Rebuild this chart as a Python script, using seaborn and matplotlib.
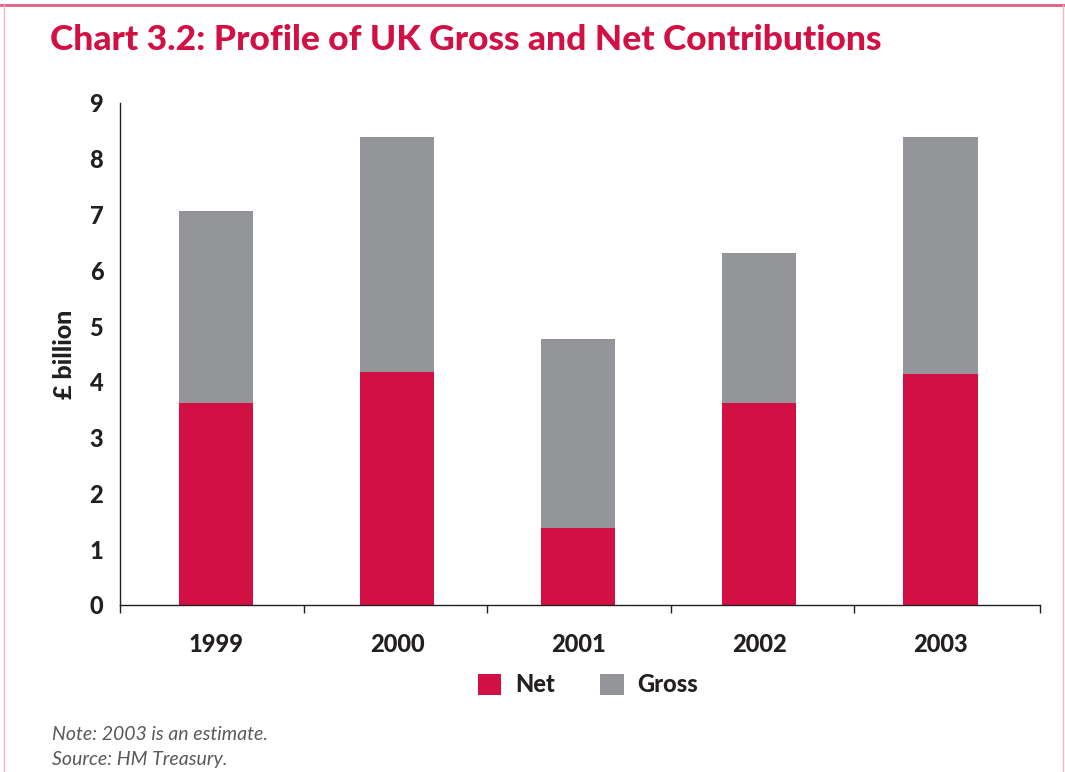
import matplotlib
matplotlib.use("Agg")
import matplotlib.pyplot as plt
from matplotlib.patches import Rectangle
from matplotlib.lines import Line2D
from matplotlib.ticker import FixedLocator
import seaborn as sns
import pandas as pd

years = ["1999", "2000", "2001", "2002", "2003"]
gross = [7.06, 8.39, 4.77, 6.31, 8.39]
net = [3.62, 4.18, 1.38, 3.62, 4.14]
yticks = [0, 1, 2, 3, 4, 5, 6, 7, 8, 9]

RED = "#D21044"
GREY = "#939598"
TXT = "#231F20"

sns.set_theme(style="white")
plt.rcParams["font.family"] = ["Lato", "DejaVu Sans"]

df = pd.DataFrame({"year": years, "gross": gross, "net": net})

fig = plt.figure(figsize=(10.65, 7.72), dpi=100)
ax = fig.add_axes([120/1065, 1-605/772, 920/1065, 502/772])

sns.barplot(data=df, x="year", y="gross", color=GREY, width=0.41, saturation=1, linewidth=0, ax=ax, label="Gross")
sns.barplot(data=df, x="year", y="net", color=RED, width=0.41, saturation=1, linewidth=0, ax=ax, label="Net")

step = 181.1
xmin = -(216 - 120) / step
xmax = xmin + 920 / step
ax.set_xlim(xmin, xmax)
ax.set_ylim(0, 9)
ax.set_yticks(yticks)
ax.set_yticklabels([str(v) for v in yticks])
ax.tick_params(axis="y", direction="out", length=6, width=1, color=TXT, labelsize=17, labelcolor=TXT, pad=6)
ax.tick_params(axis="x", which="major", length=0, labelsize=17, labelcolor=TXT, pad=20)
bounds_px = [120, 303.5, 487, 670.5, 854, 1040]
ax.xaxis.set_minor_locator(FixedLocator([(p - 216) / step for p in bounds_px]))
ax.tick_params(axis="x", which="minor", direction="out", length=6, width=1, color=TXT, bottom=True)
for lab in ax.get_xticklabels() + ax.get_yticklabels():
    lab.set_fontweight("black")
ax.set_xlabel("")
ax.set_ylabel("£ billion", fontsize=18, fontweight="black", color=TXT, labelpad=10)
for s in ["top", "right"]:
    ax.spines[s].set_visible(False)
for s in ["left", "bottom"]:
    ax.spines[s].set_color(TXT)
    ax.spines[s].set_linewidth(1)
if ax.get_legend():
    ax.get_legend().remove()

handles = [Rectangle((0, 0), 1, 1, color=RED, lw=0), Rectangle((0, 0), 1, 1, color=GREY, lw=0)]
leg = fig.legend(handles, ["Net", "Gross"], loc="center", bbox_to_anchor=(588/1065, 1-685/772),
                 ncol=2, frameon=False, handlelength=1.0, handleheight=1.0, handletextpad=0.6,
                 columnspacing=1.9, prop={"size": 17, "weight": "black"})
for t in leg.get_texts():
    t.set_color(TXT)

fig.text(50/1065, 1-40/772, "Chart 3.2: Profile of UK Gross and Net Contributions",
         fontsize=25.5, fontweight="black", color=RED, va="center", ha="left")
fig.text(52/1065, 1-735/772, "Note: 2003 is an estimate.", fontsize=14, style="italic",
         color="#58595B", va="center", ha="left")
fig.text(52/1065, 1-760/772, "Source: HM Treasury.", fontsize=14, style="italic",
         color="#58595B", va="center", ha="left")

# frame
fig.add_artist(Line2D([0, 1], [1-5/772, 1-5/772], color="#E0607E", lw=2, transform=fig.transFigure))
fig.add_artist(Line2D([4/1065, 4/1065], [0, 1-5/772], color="#F3B6C6", lw=1, transform=fig.transFigure))
fig.add_artist(Line2D([1063/1065, 1063/1065], [0, 1-5/772], color="#F3B6C6", lw=1, transform=fig.transFigure))

fig.savefig("out.png", dpi=100)
